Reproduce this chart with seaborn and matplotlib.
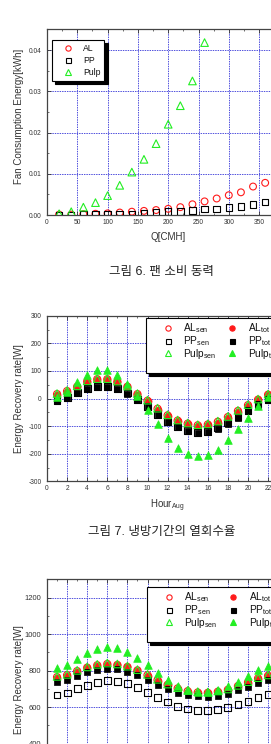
import matplotlib
matplotlib.use('Agg')
import matplotlib.pyplot as plt
import seaborn as sns
from matplotlib.ticker import MultipleLocator, FormatStrFormatter
from matplotlib.lines import Line2D

# fig 6: fan consumption energy vs flow
flow_cmh = [20, 40, 60, 80, 100, 120, 140, 160, 180, 200, 220, 240, 260, 280, 300, 320, 340, 360]
fan_al = [0.0001, 0.0001, 0.0002, 0.0003, 0.0004, 0.0006, 0.0008, 0.0010, 0.0012, 0.0015,
          0.0019, 0.0026, 0.0033, 0.0040, 0.0048, 0.0055, 0.0069, 0.0078]
fan_pp = [0.0000, 0.0000, 0.0001, 0.0001, 0.0002, 0.0003, 0.0003, 0.0004, 0.0006, 0.0008,
          0.0009, 0.0011, 0.0014, 0.0015, 0.0018, 0.0020, 0.0025, 0.0031]
flow_pulp = [20, 40, 60, 80, 100, 120, 140, 160, 180, 200, 220, 240, 260]
fan_pulp = [0.0003, 0.0008, 0.0019, 0.0030, 0.0047, 0.0072, 0.0104, 0.0135, 0.0173,
            0.0220, 0.0265, 0.0325, 0.0418]
flow_ticks = [0, 50, 100, 150, 200, 250, 300, 350]

# fig 7: cooling season (August) recovery rate
hours = list(range(1, 23))
hour_ticks = [0, 2, 4, 6, 8, 10, 12, 14, 16, 18, 20, 22]
aug_al_sen = [16, 27, 43, 62, 70, 70, 61, 43, 16, -8, -37, -61, -80, -91, -97, -94, -84, -67, -45, -24, -4, 14]
aug_al_tot = [14, 25, 40, 59, 67, 67, 58, 40, 14, -10, -40, -64, -83, -94, -100, -97, -87, -70, -48, -27, -6, 12]
aug_pp_sen = [-6, 4, 22, 37, 44, 44, 36, 20, -4, -28, -59, -83, -103, -116, -122, -119, -107, -89, -67, -44, -22, -4]
aug_pp_tot = [-8, 2, 20, 35, 42, 42, 34, 18, -6, -30, -61, -85, -105, -118, -124, -121, -109, -91, -69, -46, -24, -6]
aug_pulp_sen = [18, 29, 46, 64, 72, 72, 63, 45, 18, -6, -35, -59, -78, -89, -95, -92, -82, -65, -43, -22, -2, 16]
aug_pulp_tot = [6, 25, 58, 86, 103, 102, 85, 52, 8, -42, -93, -142, -178, -202, -210, -205, -185, -152, -112, -70, -27, 4]

# fig 8: heating season recovery rate
win_al_sen = [764, 775, 797, 816, 829, 836, 831, 820, 801, 775, 748, 722, 702, 687, 680, 678, 684, 695, 715, 735, 757, 772]
win_al_tot = [761, 772, 794, 813, 826, 833, 828, 817, 798, 772, 745, 719, 699, 684, 677, 675, 681, 692, 712, 732, 754, 769]
win_pp_sen = [666, 677, 701, 719, 734, 745, 738, 727, 705, 679, 651, 628, 604, 589, 582, 580, 585, 598, 613, 631, 651, 668]
win_pp_tot = [739, 750, 772, 791, 804, 811, 806, 794, 776, 750, 723, 699, 679, 666, 659, 657, 662, 672, 692, 712, 734, 749]
win_pulp_sen = [768, 779, 801, 820, 834, 841, 836, 824, 805, 779, 752, 726, 706, 691, 684, 682, 688, 699, 719, 739, 761, 776]
win_pulp_tot = [813, 828, 861, 894, 917, 928, 923, 903, 870, 831, 789, 750, 717, 695, 684, 684, 694, 714, 739, 769, 802, 824]

sns.set_style('ticks')
plt.rcParams['font.family'] = ['Liberation Sans', 'Noto Sans CJK KR', 'DejaVu Sans']
plt.rcParams['mathtext.default'] = 'regular'
plt.rcParams['axes.unicode_minus'] = False

RED = '#ff1a1a'
GREEN = '#22ee22'
GRID = '#5050dd'
TXT = '#333333'

W, H = 271, 744
fig = plt.figure(figsize=(W / 100, H / 100), dpi=100)


def px_axes(left, top, right, bottom):
    return fig.add_axes([left / W, 1 - bottom / H, (right - left) / W, (bottom - top) / H])


def style_axes(ax, xticks, xmin, ymaj, ymin, lsize):
    ax.set_xticks(xticks)
    ax.xaxis.set_minor_locator(MultipleLocator(xmin))
    ax.yaxis.set_major_locator(MultipleLocator(ymaj))
    ax.yaxis.set_minor_locator(MultipleLocator(ymin))
    ax.grid(True, which='major', color=GRID, ls=(0, (1.5, 1)), lw=0.7)
    ax.set_axisbelow(True)
    ax.tick_params(which='both', direction='in', top=True, right=True,
                   labelsize=lsize, colors=TXT)
    ax.tick_params(axis='y', pad=4)
    ax.tick_params(axis='x', pad=3)
    ax.tick_params(which='major', length=3, width=0.6)
    ax.tick_params(which='minor', length=1.5, width=0.5)
    for s in ax.spines.values():
        s.set_color('#444444')
        s.set_linewidth(0.9)
    ax.set_facecolor('white')


def shadow_legend(ax, handles, labels, anchor, **kw):
    leg = ax.legend(handles, labels, loc='upper left', bbox_to_anchor=(anchor[0] / W, 1 - anchor[1] / H),
                    bbox_transform=fig.transFigure, borderaxespad=0, frameon=True, fancybox=False,
                    shadow={'color': 'black', 'alpha': 1, 'ox': 2.2, 'oy': -2.2},
                    edgecolor='black', framealpha=1, **kw)
    leg.get_frame().set_linewidth(0.8)
    for t in leg.get_texts():
        t.set_color('#111111')
    return leg


def mk(marker, col, filled, ms):
    return Line2D([], [], ls='none', marker=marker, ms=ms, mec=col, mew=0.8,
                  mfc=col if filled else 'none')


# ---------- panel 1 ----------
ax1 = px_axes(47, 29.4, 289.4, 215)
sns.scatterplot(x=flow_cmh, y=fan_al, ax=ax1, marker='o', s=24, color=RED,
                facecolor='none', edgecolor=RED, linewidth=0.8, zorder=3)
sns.scatterplot(x=flow_cmh, y=fan_pp, ax=ax1, marker='s', s=22, color='black',
                facecolor='none', edgecolor='black', linewidth=0.8, zorder=3)
sns.scatterplot(x=flow_pulp, y=fan_pulp, ax=ax1, marker='^', s=30, color=GREEN,
                facecolor='none', edgecolor=GREEN, linewidth=0.8, zorder=3)
ax1.set_xlim(0, 400)
ax1.set_ylim(0, 0.045)
style_axes(ax1, flow_ticks, 25, 0.01, 0.005, 4.8)
ax1.yaxis.set_major_formatter(FormatStrFormatter('%.2f'))
ax1.set_xlabel('Q[CMH]', fontsize=7, color=TXT, labelpad=4)
ax1.set_ylabel('Fan Consumption Energy[kWh]', fontsize=7, color=TXT)
ax1.yaxis.set_label_coords(-23 / 242.4, 0.53)
shadow_legend(ax1, [mk('o', RED, False, 3.8), mk('s', 'black', False, 3.6), mk('^', GREEN, False, 4.2)],
              ['AL', 'PP', 'Pulp'], (52, 40), fontsize=6.2, handletextpad=0.4, labelspacing=0.38,
              borderpad=0.43, handlelength=2.8)

fig.text(161.5 / W, 1 - 271.7 / H, '그림 6. 팬 소비 동력', ha='center', va='center',
         fontsize=9, color='#222222')


def recovery_panel(top, bottom, ylim, ymaj, ymin, lsize, al_sen, al_tot, pp_sen, pp_tot,
                   pulp_sen, pulp_tot, legend_anchor):
    ax = px_axes(47, top, 288.2, bottom)
    sns.scatterplot(x=hours, y=al_sen, ax=ax, marker='o', s=26, color=RED, facecolor='none',
                    edgecolor=RED, linewidth=0.8, zorder=3)
    sns.scatterplot(x=hours, y=al_tot, ax=ax, marker='o', s=26, color=RED, edgecolor=RED,
                    linewidth=0.5, zorder=3)
    sns.scatterplot(x=hours, y=pp_sen, ax=ax, marker='s', s=24, color='black', facecolor='none',
                    edgecolor='black', linewidth=0.8, zorder=3)
    sns.scatterplot(x=hours, y=pp_tot, ax=ax, marker='s', s=24, color='black', edgecolor='black',
                    linewidth=0.5, zorder=3)
    sns.scatterplot(x=hours, y=pulp_sen, ax=ax, marker='^', s=30, color=GREEN, facecolor='none',
                    edgecolor=GREEN, linewidth=0.8, zorder=3)
    sns.scatterplot(x=hours, y=pulp_tot, ax=ax, marker='^', s=30, color=GREEN, edgecolor=GREEN,
                    linewidth=0.5, zorder=3)
    ax.set_xlim(0, 24)
    ax.set_ylim(*ylim)
    style_axes(ax, hour_ticks, 1, ymaj, ymin, lsize)
    ax.set_ylabel('Energy Recovery rate[W]', fontsize=7, color=TXT)
    ax.yaxis.set_label_coords(-23 / 241.2, 0.5)

    blank = Line2D([], [], ls='none')
    handles = [mk('o', RED, False, 3.8), mk('s', 'black', False, 3.6), mk('^', GREEN, False, 4.2), blank,
               mk('o', RED, True, 3.8), mk('s', 'black', True, 3.6), mk('^', GREEN, True, 4.2), blank]
    labels = ['AL$_{sen}$', 'PP$_{sen}$', 'Pulp$_{sen}$', ' ',
              'AL$_{tot}$', 'PP$_{tot}$', 'Pulp$_{tot}$', ' ']
    shadow_legend(ax, handles, labels, legend_anchor, ncol=2, fontsize=7.3, handletextpad=-0.4,
                  labelspacing=-0.1, borderpad=0.3, handlelength=3.8, columnspacing=-0.35)
    return ax


ax2 = recovery_panel(315.7, 481.3, (-300, 300), 100, 50, 4.8, aug_al_sen, aug_al_tot, aug_pp_sen,
                     aug_pp_tot, aug_pulp_sen, aug_pulp_tot, (145.7, 318.3))
ax2.set_xlabel('Hour$_{Aug}$', fontsize=7, color=TXT, labelpad=4)

fig.text(161.5 / W, 1 - 531.7 / H, '그림 7. 냉방기간의 열회수율', ha='center', va='center',
         fontsize=9, color='#222222')

ax3 = recovery_panel(579.3, 780, (200, 1300), 200, 100, 5.5, win_al_sen, win_al_tot, win_pp_sen,
                     win_pp_tot, win_pulp_sen, win_pulp_tot, (146.7, 587.3))
# the bottom of this panel lies below the cropped page
ax3.tick_params(axis='x', labelbottom=False)

fig.savefig('out.png', dpi=100, facecolor='white')
